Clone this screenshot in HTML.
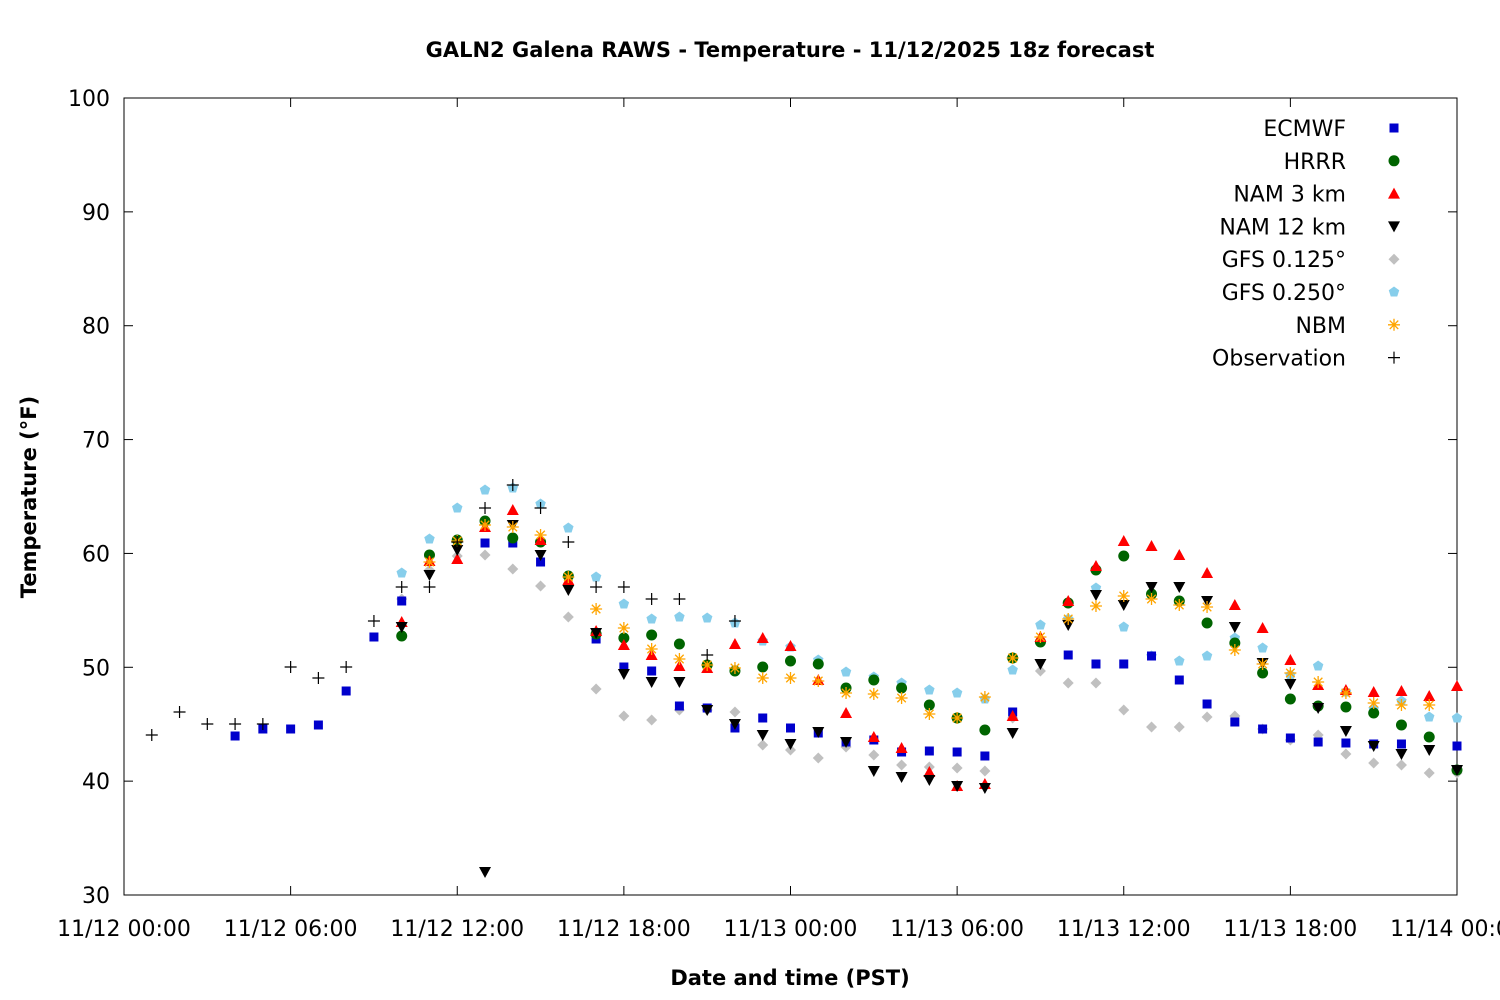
<!DOCTYPE html>
<html><head><meta charset="utf-8"><style>
html,body{margin:0;padding:0;background:#fff}
svg{display:block}
text{font-family:"DejaVu Sans","Liberation Sans",sans-serif}
</style></head><body>
<svg id="s" width="1500" height="1000" xmlns="http://www.w3.org/2000/svg">
<rect width="1500" height="1000" fill="#fff"/>
<text x="790" y="57" text-anchor="middle" font-size="21" font-weight="bold">GALN2 Galena RAWS - Temperature - 11/12/2025 18z forecast</text>
<rect x="124" y="98" width="1333" height="797" fill="none" stroke="#000" stroke-width="1"/>
<g id="ticks" stroke="#000" stroke-width="1"></g>
<g id="lab" font-size="22"></g>
<text x="790" y="985" text-anchor="middle" font-size="21" font-weight="bold">Date and time (PST)</text>
<text transform="translate(36,497) rotate(-90)" text-anchor="middle" font-size="21" font-weight="bold">Temperature (°F)</text>
<g id="pts"></g>
<g id="leg" font-size="22" text-anchor="end"></g>
</svg>
<script>
var NS="http://www.w3.org/2000/svg";
function el(p,t,a,txt){var e=document.createElementNS(NS,t);for(var k in a)e.setAttribute(k,a[k]);if(txt!=null)e.textContent=txt;document.getElementById(p).appendChild(e);return e;}
for(var i=0;i<=7;i++){var y=895-i*797/7;
 el("ticks","line",{x1:124,y1:y,x2:133,y2:y});el("ticks","line",{x1:1457,y1:y,x2:1448,y2:y});
 el("lab","text",{x:110,y:y+8,"text-anchor":"end"},String(30+i*10));}
var xl=["11/12 00:00","11/12 06:00","11/12 12:00","11/12 18:00","11/13 00:00","11/13 06:00","11/13 12:00","11/13 18:00","11/14 00:00"];
for(var i=0;i<=8;i++){var x=124+i*1333/8;
 el("ticks","line",{x1:x,y1:895,x2:x,y2:886});el("ticks","line",{x1:x,y1:98,x2:x,y2:107});
 el("lab","text",{x:x,y:936,"text-anchor":"middle"},xl[i]);}
function X(h){return 124+h*1333/48;}
function mk(g,type,x,y){
 if(type=="sq")el(g,"rect",{x:x-4.5,y:y-4.5,width:9,height:9,fill:"#0000cc"});
 else if(type=="ci")el(g,"circle",{cx:x,cy:y,r:5.5,fill:"#006400"});
 else if(type=="tu")el(g,"polygon",{points:(x-6)+","+(y+5)+" "+(x+6)+","+(y+5)+" "+x+","+(y-6),fill:"#ff0000"});
 else if(type=="td")el(g,"polygon",{points:(x-6)+","+(y-5)+" "+(x+6)+","+(y-5)+" "+x+","+(y+6),fill:"#000"});
 else if(type=="di")el(g,"polygon",{points:x+","+(y-5.5)+" "+(x+5.5)+","+y+" "+x+","+(y+5.5)+" "+(x-5.5)+","+y,fill:"#c0c0c0"});
 else if(type=="pe"){var p=[];for(var k=0;k<5;k++){var a=-Math.PI/2+k*2*Math.PI/5;p.push((x+5.5*Math.cos(a))+","+(y+5.5*Math.sin(a)));}el(g,"polygon",{points:p.join(" "),fill:"#87ceeb"});}
 else if(type=="as"){var d="";for(var k=0;k<4;k++){var a=k*Math.PI/4;d+="M"+(x-6*Math.cos(a))+","+(y-6*Math.sin(a))+"L"+(x+6*Math.cos(a))+","+(y+6*Math.sin(a));}el(g,"path",{d:d,stroke:"#ffa500","stroke-width":1.3,fill:"none"});}
 else if(type=="pl")el(g,"path",{d:"M"+(x-6)+","+y+"H"+(x+6)+"M"+x+","+(y-6)+"V"+(y+6),stroke:"#000","stroke-width":1.2,fill:"none"});
}
function ser(type,start,arr){for(var i=0;i<arr.length;i++){if(arr[i]!=null)mk("pts",type,X(start+i),arr[i]);}}
ser("di",10,[599,570,556,555,569,586,617,689,716,720,710,710,712,745,750,758,747,755,765,767,768,771,718,671,683,683,710,727,727,717,716,729,740,735,754,763,765,773,773]);
ser("pe",10,[573,539,508,490,488,504,528,577,604,619,617,618,623,641,647,660,672,677,683,690,693,699,670,625,619,588,627,656,661,656,638,648,675,666,692,709,701,717,718]);
ser("sq",4,[736,729,729,725,691,637,601,null,null,543,543,562,null,639,667,671,706,708,728,718,728,733,742,740,752,751,752,756,712,null,655,664,664,656,680,704,722,729,738,742,743,744,744,null,746]);
ser("ci",10,[636,555,540,521,538,542,576,634,638,635,644,665,671,667,661,664,688,680,688,705,718,730,658,642,603,570,556,594,601,623,643,673,699,706,707,713,725,737,770]);
ser("tu",10,[622,561,559,527,510,540,580,631,645,655,666,668,644,638,646,680,713,737,748,772,786,784,716,637,601,566,541,546,555,573,605,628,660,685,690,692,691,696,686]);
ser("td",10,[627,575,550,872,525,555,590,633,674,682,682,710,724,735,744,732,742,771,777,780,786,788,733,664,625,595,605,587,587,601,627,663,684,708,731,746,754,750,770]);
ser("as",11,[562,541,525,527,535,577,609,628,649,659,665,668,678,678,681,693,694,698,714,718,697,658,637,619,606,596,599,605,607,650,664,673,682,693,703,705,705]);
ser("pl",1,[735,712,724,724,724,667,678,667,621,587,587,542,508,485,508,542,587,587,599,599,655,621]);
var L=[["ECMWF","sq"],["HRRR","ci"],["NAM 3 km","tu"],["NAM 12 km","td"],["GFS 0.125°","di"],["GFS 0.250°","pe"],["NBM","as"],["Observation","pl"]];
for(var i=0;i<L.length;i++){var y=128+i*32.8;el("leg","text",{x:1346,y:y+8},L[i][0]);mk("leg",L[i][1],1394,y);}
</script>
</body></html>
